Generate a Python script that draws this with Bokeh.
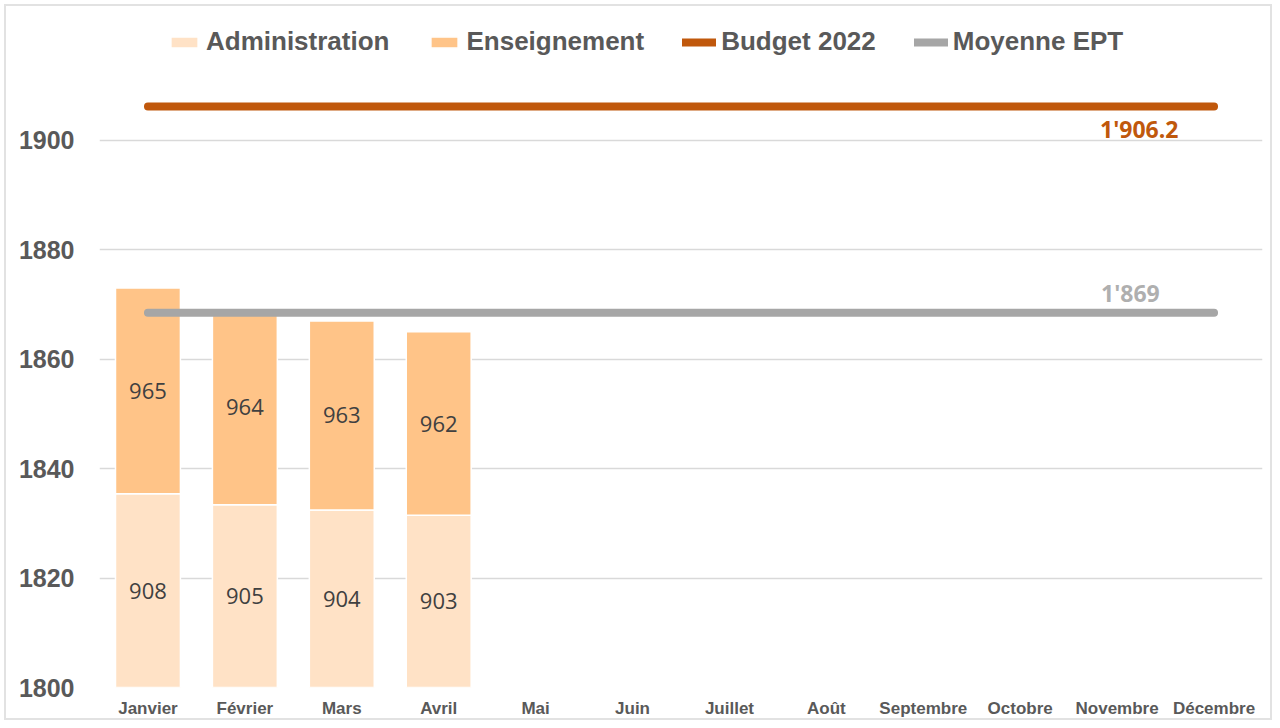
import math
from bokeh.plotting import figure
from bokeh.models import ColumnDataSource, FactorRange, Legend, LegendItem, FixedTicker
from bokeh.core.properties import value
from bokeh.embed import file_html
from bokeh.resources import INLINE

months = ["Janvier", "Février", "Mars", "Avril", "Mai", "Juin", "Juillet",
          "Août", "Septembre", "Octobre", "Novembre", "Décembre"]
bar_months = ["Janvier", "Février", "Mars", "Avril"]
administration = [908, 905, 904, 903]
enseignement = [965, 964, 963, 962]
budget_2022 = 1906.2
y_ticks = [1800, 1820, 1840, 1860, 1880, 1900]
axis_min = 1800
axis_max = 1923

totals = [a + e for a, e in zip(administration, enseignement)]
moyenne = sum(totals) / len(totals)
# visible part of the stacked bar split proportionally (chart starts at axis_min)
admin_top = [axis_min + (t - axis_min) * a / t for a, t in zip(administration, totals)]

def fmt(v, d):
    f = 10 ** d
    r = math.floor(v * f + 0.5) / f
    return f"{r:,.{d}f}".replace(",", "'")

src = ColumnDataSource(dict(
    m=bar_months, base=[axis_min] * len(bar_months), admin_top=admin_top, total=totals,
    admin_mid=[(axis_min + a) / 2 for a in admin_top],
    ens_mid=[(a + t) / 2 for a, t in zip(admin_top, totals)],
    admin_lbl=[str(v) for v in administration],
    ens_lbl=[str(v) for v in enseignement],
))

p = figure(x_range=FactorRange(*months, range_padding=0), y_range=(axis_min, axis_max),
           width=1268, height=716, output_backend="svg", toolbar_location=None,
           min_border_left=93, min_border_right=12, min_border_top=8, min_border_bottom=35)
p.outline_line_color = None
p.styles = {"border": "2px solid #E2E2E2", "margin": "4px"}

ADMIN_C = "#FFE2C6"
ENS_C = "#FFC488"
BUD_C = "#C0580C"
MOY_C = "#A6A6A6"

r_admin = p.vbar(x="m", bottom="base", top="admin_top", width=0.67, source=src,
                 fill_color=ADMIN_C, line_color="white", line_width=1.5)
r_ens = p.vbar(x="m", bottom="admin_top", top="total", width=0.67, source=src,
               fill_color=ENS_C, line_color="white", line_width=1.5)

r_bud = p.line(x=months, y=[budget_2022] * len(months), line_color=BUD_C,
               line_width=8, line_cap="round")
r_moy = p.line(x=months, y=[moyenne] * len(months), line_color=MOY_C,
               line_width=8, line_cap="round")

p.text(x="m", y="admin_mid", text="admin_lbl", source=src, text_align="center",
       text_baseline="middle", text_font=value("Open Sans"), text_font_size="22px",
       text_color="#404040")
p.text(x="m", y="ens_mid", text="ens_lbl", source=src, text_align="center",
       text_baseline="middle", text_font=value("Open Sans"), text_font_size="22px",
       text_color="#404040")

p.text(x=[months[-1]], y=[budget_2022], text=[fmt(budget_2022, 1)], x_offset=-114, y_offset=23,
       text_align="left", text_baseline="middle", text_font=value("Open Sans"),
       text_font_style="bold", text_font_size="23px", text_color=BUD_C)
p.text(x=[months[-1]], y=[moyenne], text=[fmt(moyenne, 0)], x_offset=-113, y_offset=-20,
       text_align="left", text_baseline="middle", text_font=value("Open Sans"),
       text_font_style="bold", text_font_size="23px", text_color="#AFAFAF")

# axes
p.yaxis.ticker = FixedTicker(ticks=y_ticks)
p.yaxis.axis_line_color = None
p.yaxis.major_tick_line_color = None
p.yaxis.minor_tick_line_color = None
p.yaxis.major_label_standoff = 19
p.yaxis.major_label_text_font = "Liberation Sans"
p.yaxis.major_label_text_font_style = "bold"
p.yaxis.major_label_text_font_size = "25px"
p.yaxis.major_label_text_color = "#595959"

p.xaxis.axis_line_color = None
p.xaxis.major_tick_line_color = None
p.xaxis.major_label_standoff = 5
p.xaxis.major_label_text_font = "Liberation Sans"
p.xaxis.major_label_text_font_style = "bold"
p.xaxis.major_label_text_font_size = "17px"
p.xaxis.major_label_text_color = "#595959"

p.xgrid.grid_line_color = None
p.ygrid.grid_line_color = "#D9D9D9"
p.ygrid.grid_line_width = 1.5

legend = Legend(items=[LegendItem(label="Administration", renderers=[r_admin]),
                       LegendItem(label="Enseignement", renderers=[r_ens]),
                       LegendItem(label="Budget 2022", renderers=[r_bud]),
                       LegendItem(label="Moyenne EPT", renderers=[r_moy])],
                location=(68, 630), orientation="horizontal",
                glyph_width=34, glyph_height=14, label_standoff=5, spacing=38,
                padding=0, margin=0, border_line_color=None, background_fill_alpha=0,
                label_text_font="Liberation Sans", label_text_font_style="bold",
                label_text_font_size="26px", label_text_color="#595959", label_height=30)
p.add_layout(legend, "center")

open("out.html", "w").write(file_html(p, INLINE))
